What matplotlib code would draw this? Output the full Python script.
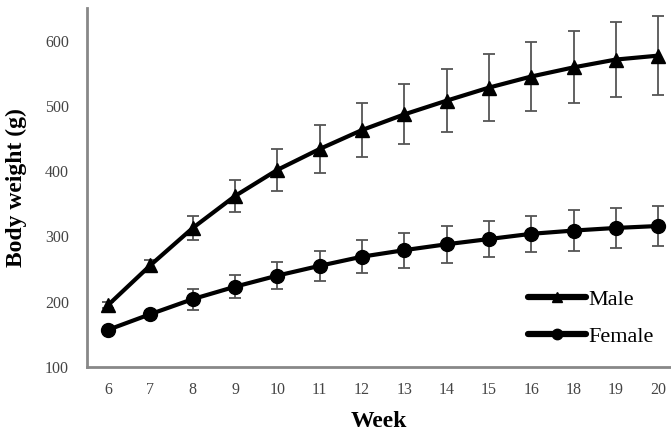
import matplotlib
matplotlib.use("Agg")
import matplotlib.pyplot as plt
import numpy as np

weeks = ["6", "7", "8", "9", "10", "11", "12", "13", "14", "15", "16", "18", "19", "20"]
male = [195, 256, 313, 362, 402, 434, 463, 487, 508, 528, 545, 559, 571, 577]
male_err = [5, 8, 19, 25, 32, 37, 41, 46, 48, 51, 53, 55, 58, 60]
female = [157, 181, 204, 223, 240, 255, 269, 279, 288, 296, 304, 309, 313, 316]
female_err = [3, 5, 16, 18, 21, 23, 25, 27, 28, 28, 28, 31, 31, 31]

plt.rcParams['font.family'] = ['Liberation Serif', 'DejaVu Serif']

fig = plt.figure(figsize=(6.71, 4.32), dpi=100)
ax = fig.add_axes([0.1297, 0.1505, 0.870, 0.831])

x = np.arange(len(weeks))
ax.errorbar(x, male, yerr=male_err, fmt='none', ecolor='#555555', elinewidth=1.3,
            capsize=4, capthick=1.3, zorder=2)
ax.errorbar(x, female, yerr=female_err, fmt='none', ecolor='#555555', elinewidth=1.3,
            capsize=4, capthick=1.3, zorder=2)
ax.plot(x, male, color='black', lw=3, marker='^', markersize=10, label='Male', zorder=3)
ax.plot(x, female, color='black', lw=3, marker='o', markersize=10, label='Female', zorder=3)

ax.set_xlim(-0.5, 13.3)
ax.set_ylim(100, 650)
ax.set_yticks([100, 200, 300, 400, 500, 600])
ax.set_xticks(x)
ax.set_xticklabels(weeks)
ax.tick_params(axis='both', length=0, labelsize=11.5, colors='#444444')
ax.tick_params(axis='y', pad=13)
ax.tick_params(axis='x', pad=11)
for s in ['top', 'right']:
    ax.spines[s].set_visible(False)
for s in ['left', 'bottom']:
    ax.spines[s].set_color('#888888')
    ax.spines[s].set_linewidth(2)

ax.set_xlabel('Week', fontsize=17, fontweight='bold', labelpad=9)
ax.set_ylabel('Body weight (g)', fontsize=17, fontweight='bold', labelpad=13)

leg = ax.legend(loc='lower right', bbox_to_anchor=(1.005, 0.0), frameon=False,
                fontsize=16, handlelength=2.6, labelspacing=0.75, handletextpad=0.1,
                markerscale=0.75)
for h in leg.get_lines():
    h.set_linewidth(4.5)
    h.set_solid_capstyle('round')

fig.savefig('out.png', dpi=100)
